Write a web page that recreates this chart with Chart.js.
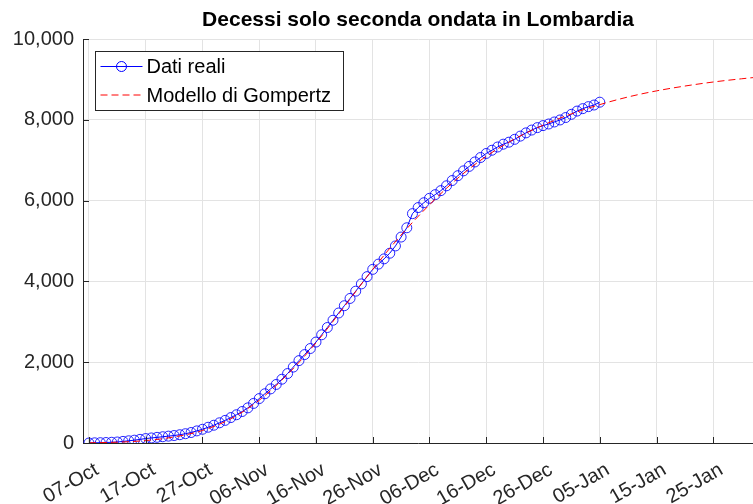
<!DOCTYPE html>
<html>
<head>
<meta charset="utf-8">
<script src="https://cdn.jsdelivr.net/npm/chart.js@4/dist/chart.umd.min.js"></script>
<style>
  html, body { margin: 0; padding: 0; background: #fff; overflow: hidden; }
  #chart { display: block; }
</style>
</head>
<body>
<canvas id="chart" width="753" height="504"></canvas>
<script>
// real data: cumulative deaths, one value per day starting 07-Oct
const realDeaths = [
    0, 5, 8, 12, 18, 25, 40, 55, 70, 90,               // 07-Oct .. 16-Oct
    110, 125, 140, 155, 170, 185, 205, 230, 260, 300,  // 17-Oct .. 26-Oct
    340, 390, 440, 500, 560, 630, 700, 780, 870, 980,  // 27-Oct .. 05-Nov
    1100, 1220, 1340, 1450, 1580, 1720, 1880, 2040, 2190, 2340, // 06-Nov .. 15-Nov
    2500, 2680, 2860, 3040, 3220, 3400, 3580, 3760, 3940, 4120, // 16-Nov .. 25-Nov
    4300, 4430, 4560, 4700, 4880, 5100, 5330, 5680, 5830, 5950, // 26-Nov .. 05-Dec
    6060, 6150, 6250, 6370, 6500, 6620, 6740, 6850, 6960, 7070, // 06-Dec .. 15-Dec
    7170, 7250, 7330, 7400, 7450, 7520, 7600, 7680, 7750, 7810, // 16-Dec .. 25-Dec
    7860, 7900, 7950, 8000, 8060, 8140, 8220, 8280, 8330, 8370, // 26-Dec .. 04-Jan
    8440                                               // 05-Jan
];

// Gompertz model, read every 5 days (day 0 = 07-Oct)
const modelDays = [0, 5, 10, 15, 20, 25, 30, 35, 40, 45, 50, 55, 60, 65, 70, 75, 80, 85, 90, 95, 100, 105, 110, 115, 120];
const modelValues = [5, 20, 60, 150, 310, 600, 1060, 1700, 2480, 3380, 4300, 5150, 5900, 6560, 7100, 7530, 7870, 8150, 8380, 8570, 8720, 8840, 8940, 9020, 9090];

const xTickDays = [0, 10, 20, 30, 40, 50, 60, 70, 80, 90, 100, 110];
const xTickLabels = ["07-Oct", "17-Oct", "27-Oct", "06-Nov", "16-Nov", "26-Nov",
    "06-Dec", "16-Dec", "26-Dec", "05-Jan", "15-Jan", "25-Jan"];
const yTicks = [0, 2000, 4000, 6000, 8000, 10000];

const axisColor = "#262626";
const fontFamily = "'Liberation Sans', Arial, Helvetica, sans-serif";

// matlab style ticks pointing inward
const innerTicks = {
    id: "innerTicks",
    afterDraw(chart) {
        const ctx = chart.ctx;
        const area = chart.chartArea;
        const xs = chart.scales.x;
        const ys = chart.scales.y;
        ctx.save();
        ctx.strokeStyle = axisColor;
        ctx.lineWidth = 1;
        ctx.beginPath();
        xTickDays.forEach(d => {
            let px = Math.round(xs.getPixelForValue(d)) + 0.5;
            ctx.moveTo(px, area.bottom);
            ctx.lineTo(px, area.bottom - 6);
        });
        yTicks.forEach(v => {
            let py = Math.round(ys.getPixelForValue(v)) + 0.5;
            ctx.moveTo(area.left, py);
            ctx.lineTo(area.left + 6, py);
        });
        ctx.stroke();
        ctx.restore();
    }
};

// legend box inside the axes, top left
const boxLegend = {
    id: "boxLegend",
    afterDraw(chart) {
        const ctx = chart.ctx;
        const area = chart.chartArea;
        let x = area.left + 12.5, y = Math.round(area.top) + 12.5;
        let w = 248, h = 59;
        ctx.save();
        ctx.fillStyle = "#fff";
        ctx.fillRect(x, y, w, h);
        ctx.strokeStyle = axisColor;
        ctx.lineWidth = 1;
        ctx.strokeRect(x, y, w, h);

        let rows = [
            { label: "Dati reali", color: "#0000ff", dash: [], marker: true },
            { label: "Modello di Gompertz", color: "#ff0000", dash: [7, 4], marker: false }
        ];
        ctx.font = "20px " + fontFamily;
        ctx.textBaseline = "middle";
        rows.forEach((r, i) => {
            let cy = y + 15 + i * 28.5;
            ctx.strokeStyle = r.color;
            ctx.setLineDash(r.dash);
            ctx.beginPath();
            ctx.moveTo(x + 5, cy);
            ctx.lineTo(x + 47, cy);
            ctx.stroke();
            ctx.setLineDash([]);
            if (r.marker) {
                ctx.beginPath();
                ctx.arc(x + 26, cy, 5, 0, Math.PI * 2);
                ctx.stroke();
            }
            ctx.fillStyle = "#000";
            ctx.fillText(r.label, x + 51, cy + 1);
        });
        ctx.restore();
    }
};

function main() {
    let realPoints = realDeaths.map((v, i) => ({ x: i, y: v }));
    let modelPoints = modelDays.map((d, i) => ({ x: d, y: modelValues[i] }));

    let ctx = document.getElementById("chart");
    new Chart(ctx, {
        type: "line",
        data: {
            datasets: [
                {
                    label: "Modello di Gompertz",
                    data: modelPoints,
                    borderColor: "#ff0000",
                    borderWidth: 1,
                    borderDash: [7, 4],
                    pointRadius: 0,
                    cubicInterpolationMode: "monotone",
                    fill: false,
                    order: 1
                },
                {
                    label: "Dati reali",
                    data: realPoints,
                    borderColor: "#0000ff",
                    borderWidth: 1,
                    pointRadius: 5,
                    pointBorderWidth: 1,
                    pointBorderColor: "rgba(0,0,255,0.85)",
                    pointBackgroundColor: "rgba(0,0,0,0)",
                    tension: 0,
                    fill: false,
                    order: 2
                }
            ]
        },
        options: {
            responsive: false,
            animation: false,
            layout: { padding: 0, autoPadding: false },
            plugins: {
                legend: { display: false },
                tooltip: { enabled: false },
                title: {
                    display: true,
                    text: "Decessi solo seconda ondata in Lombardia",
                    color: "#000",
                    fullSize: false,
                    font: { family: fontFamily, size: 21, weight: "bold" },
                    padding: { top: 8, bottom: 6 }
                }
            },
            scales: {
                x: {
                    type: "linear",
                    min: -1.05,
                    max: 117,
                    afterBuildTicks: scale => {
                        scale.ticks = xTickDays.map(v => ({ value: v }));
                    },
                    afterFit: scale => {
                        scale.height = 61;
                        scale.paddingLeft = 0;
                        scale.paddingRight = 0;
                    },
                    grid: { color: "#e3e3e3", drawTicks: false },
                    border: { display: true, color: axisColor },
                    ticks: {
                        color: axisColor,
                        font: { family: fontFamily, size: 20 },
                        minRotation: 30,
                        maxRotation: 30,
                        padding: 15,
                        labelOffset: 8,
                        callback: v => xTickLabels[xTickDays.indexOf(v)]
                    }
                },
                y: {
                    min: 0,
                    max: 10000,
                    afterBuildTicks: scale => {
                        scale.ticks = yTicks.map(v => ({ value: v }));
                    },
                    afterFit: scale => {
                        scale.width = 83;
                        scale.paddingTop = 0;
                        scale.paddingBottom = 0;
                    },
                    grid: { color: "#e3e3e3", drawTicks: false },
                    border: { display: true, color: axisColor },
                    ticks: {
                        color: axisColor,
                        font: { family: fontFamily, size: 20 },
                        padding: 9,
                        callback: v => v.toLocaleString("en-US")
                    }
                }
            }
        },
        plugins: [innerTicks, boxLegend]
    });
}

document.addEventListener("DOMContentLoaded", main);
</script>
</body>
</html>
